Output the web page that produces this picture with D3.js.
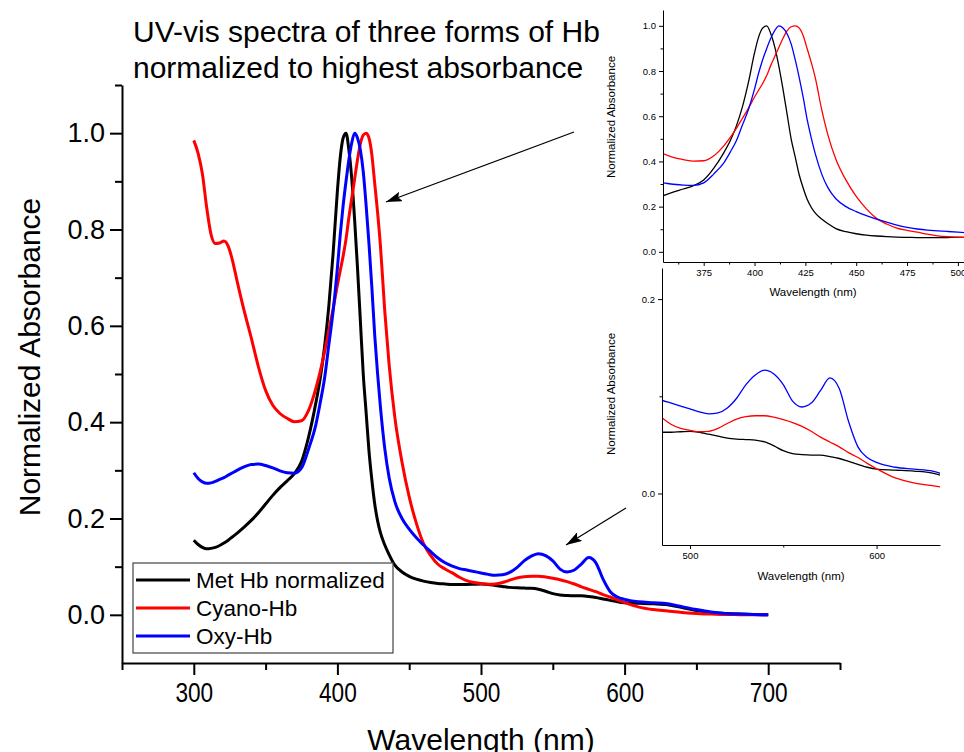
<!DOCTYPE html>
<html>
<head>
<meta charset="utf-8">
<script src="https://cdn.jsdelivr.net/npm/d3@7"></script>
<style>
  body { margin: 0; background: #fff; }
  text { font-family: "Liberation Sans", Arial, Helvetica, sans-serif; fill: #000; }
</style>
</head>
<body>
<svg id="chart" width="964" height="752"></svg>
<script>
// Wavelength grid (nm) shared by the three spectra
const wavelengths = [
  300,303,306,309,312,315,318,321,324,327,
  330,335,340,345,350,355,360,365,370,375,380,385,
  388,391,394,397,
  400,402,404,406,408,410,412,414,416,418,420,422,424,426,428,430,
  433,436,
  440,445,450,455,460,465,470,475,480,485,490,495,500,505,510,515,520,525,530,535,
  540,545,550,555,560,565,570,575,580,585,590,595,600,
  610,620,630,640,650,660,670,680,690,700
];

// Normalized absorbance, Met Hb
const metHb = [
  0.155,0.146,0.140,0.137,0.138,0.140,0.144,0.149,0.155,0.162,
  0.169,0.182,0.196,0.212,0.230,0.248,0.264,0.278,0.293,0.318,0.370,0.440,
  0.490,0.555,0.640,0.750,
  0.880,0.950,0.990,1.000,0.965,0.905,0.820,0.720,0.610,0.500,0.420,0.340,0.280,0.230,0.195,0.170,
  0.145,0.125,
  0.103,0.089,0.080,0.074,0.070,0.067,0.065,0.064,0.063,0.063,0.063,0.0635,0.064,0.063,0.061,0.059,0.057,0.056,0.0555,0.055,
  0.053,0.049,0.044,0.041,0.040,0.0395,0.0395,0.038,0.036,0.033,0.030,0.027,0.025,
  0.024,0.023,0.021,0.015,0.009,0.005,0.003,0.0015,0.0005,0.0
];

// Normalized absorbance, Cyano-Hb
const cyanoHb = [
  0.985,0.958,0.915,0.845,0.790,0.771,0.772,0.776,0.765,0.735,
  0.695,0.632,0.575,0.515,0.466,0.435,0.418,0.408,0.401,0.403,0.425,0.470,
  0.505,0.545,0.590,0.635,
  0.685,0.715,0.745,0.780,0.825,0.865,0.905,0.945,0.978,0.996,1.000,0.990,0.955,0.895,0.835,0.765,
  0.630,0.520,
  0.410,0.317,0.245,0.190,0.148,0.123,0.105,0.095,0.087,0.078,0.071,0.067,0.065,0.0635,0.064,0.067,0.072,0.0765,0.079,0.080,
  0.080,0.0785,0.076,0.073,0.069,0.064,0.058,0.053,0.048,0.042,0.037,0.031,0.0255,
  0.016,0.011,0.008,0.005,0.003,0.0015,0.0008,0.0003,0.0,0.0
];

// Normalized absorbance, Oxy-Hb
const oxyHb = [
  0.295,0.283,0.276,0.273,0.274,0.277,0.281,0.285,0.290,0.295,
  0.300,0.307,0.312,0.313,0.310,0.305,0.299,0.295,0.294,0.305,0.345,0.395,
  0.440,0.490,0.560,0.630,
  0.720,0.790,0.850,0.900,0.945,0.980,1.000,0.990,0.965,0.920,0.850,0.770,0.680,0.580,0.500,0.430,
  0.345,0.285,
  0.235,0.200,0.178,0.160,0.145,0.131,0.118,0.108,0.101,0.096,0.093,0.090,0.087,0.084,0.082,0.083,0.088,0.098,0.112,0.122,
  0.127,0.123,0.112,0.095,0.089,0.093,0.106,0.119,0.108,0.074,0.048,0.037,0.032,
  0.027,0.025,0.023,0.017,0.011,0.006,0.003,0.0015,0.0005,0.0
];

const seriesNames  = ["Met Hb normalized", "Cyano-Hb", "Oxy-Hb"];
const seriesColors = ["#000000", "#ff0000", "#0000ff"];
const seriesValues = [metHb, cyanoHb, oxyHb];

const titleLines = ["UV-vis spectra of three forms of Hb", "normalized to highest absorbance"];
const xTitle = "Wavelength (nm)";
const yTitle = "Normalized Absorbance";

// Tick values for the main plot and the two zoomed panels
const mainXTicks = [300, 400, 500, 600, 700];
const mainXMinor = [250, 350, 450, 550, 650, 750];
const mainYTicks = [0.0, 0.2, 0.4, 0.6, 0.8, 1.0];
const mainYMinor = [0.1, 0.3, 0.5, 0.7, 0.9, 1.1];

const soretXTicks = [375, 400, 425, 450, 475, 500];
const soretXMinor = [362.5, 387.5, 412.5, 437.5, 462.5, 487.5];
const soretYTicks = [0.0, 0.2, 0.4, 0.6, 0.8, 1.0];
const soretYMinor = [0.1, 0.3, 0.5, 0.7, 0.9];

const qbandXTicks = [500, 600];
const qbandXMinor = [550];
const qbandYTicks = [0.0, 0.2];
const qbandYMinor = [0.1];

const svg = d3.select("#chart");
const rows = wavelengths.map((w, i) => ({ w, v: seriesValues.map(s => s[i]) }));

let clipId = 0;
function drawPanel(opt) {
  const x = d3.scaleLinear().domain(opt.xDomain).range(opt.xRange);
  const y = d3.scaleLinear().domain(opt.yDomain).range(opt.yRange);
  const g = svg.append("g");
  const id = "clip" + (clipId++);
  g.append("clipPath").attr("id", id).append("rect")
    .attr("x", opt.xRange[0]).attr("y", opt.yRange[1])
    .attr("width", opt.xRange[1] - opt.xRange[0])
    .attr("height", opt.yRange[0] - opt.yRange[1]);

  const plot = g.append("g").attr("clip-path", `url(#${id})`);
  seriesValues.forEach((_, k) => {
    const line = d3.line()
      .x(d => x(d.w)).y(d => y(d.v[k]))
      .curve(d3.curveMonotoneX);
    plot.append("path").datum(rows)
      .attr("fill", "none")
      .attr("stroke", seriesColors[k])
      .attr("stroke-width", opt.lineWidth)
      .attr("stroke-linejoin", "round")
      .attr("d", line);
  });

  const fmtY = d3.format(".1f");
  const fmtX = d3.format("d");

  // bottom axis
  const xa = g.append("g").attr("transform", `translate(0,${opt.yRange[0]})`)
    .call(d3.axisBottom(x).tickValues(opt.xTicks).tickFormat(fmtX)
      .tickSize(opt.major).tickSizeOuter(0).tickPadding(opt.xPad));
  g.append("g").attr("transform", `translate(0,${opt.yRange[0]})`)
    .call(d3.axisBottom(x).tickValues(opt.xMinor).tickFormat("")
      .tickSize(opt.minor).tickSizeOuter(0))
    .call(s => s.select(".domain").remove());

  // left axis
  const ya = g.append("g").attr("transform", `translate(${opt.xRange[0]},0)`)
    .call(d3.axisLeft(y).tickValues(opt.yTicks).tickFormat(fmtY)
      .tickSize(opt.major).tickSizeOuter(0).tickPadding(opt.yPad));
  g.append("g").attr("transform", `translate(${opt.xRange[0]},0)`)
    .call(d3.axisLeft(y).tickValues(opt.yMinor).tickFormat("")
      .tickSize(opt.minor).tickSizeOuter(0))
    .call(s => s.select(".domain").remove());

  g.selectAll(".domain, .tick line")
    .attr("stroke", "#000").attr("stroke-width", opt.axisWidth);
  g.selectAll(".tick text").attr("fill", "#000").attr("font-family", null);
  xa.selectAll(".tick text").attr("font-size", opt.xTickFont);
  ya.selectAll(".tick text").attr("font-size", opt.yTickFont);
  if (opt.xTickStretch) {
    // condensed tick numerals along the wavelength axis
    xa.selectAll(".tick text").attr("transform", `scale(${opt.xTickStretch},1)`);
  }

  g.append("text")
    .attr("x", opt.xTitlePos[0]).attr("y", opt.xTitlePos[1])
    .attr("text-anchor", "middle").attr("font-size", opt.titleFont)
    .text(xTitle);
  g.append("text")
    .attr("transform", `translate(${opt.yTitlePos[0]},${opt.yTitlePos[1]}) rotate(-90)`)
    .attr("text-anchor", "middle").attr("font-size", opt.yTitleFont || opt.titleFont)
    .text(yTitle);
  return { x, y };
}

// Main spectrum
const main = drawPanel({
  xDomain: [250, 750], xRange: [122, 840],
  yDomain: [-0.1, 1.1], yRange: [663, 85],
  xTicks: mainXTicks, xMinor: mainXMinor, yTicks: mainYTicks, yMinor: mainYMinor,
  major: 12, minor: 7, axisWidth: 2, lineWidth: 3,
  xPad: 8, yPad: 5, xTickFont: 27, yTickFont: 27, xTickStretch: 0.84,
  titleFont: 30, xTitlePos: [481, 750], yTitlePos: [40, 357]
});

// Soret band zoom (upper right)
drawPanel({
  xDomain: [355, 503], xRange: [663, 964],
  yDomain: [-0.045, 1.07], yRange: [262, 10],
  xTicks: soretXTicks, xMinor: soretXMinor, yTicks: soretYTicks, yMinor: soretYMinor,
  major: 4, minor: 2.5, axisWidth: 1, lineWidth: 1.3,
  xPad: 3, yPad: 3, xTickFont: 9.5, yTickFont: 9.5,
  titleFont: 11.5, xTitlePos: [813, 296], yTitlePos: [615, 117]
});

// Q band zoom (lower right)
drawPanel({
  xDomain: [485, 634], xRange: [662, 940],
  yDomain: [-0.053, 0.232], yRange: [545, 268],
  xTicks: qbandXTicks, xMinor: qbandXMinor, yTicks: qbandYTicks, yMinor: qbandYMinor,
  major: 4, minor: 2.5, axisWidth: 1, lineWidth: 1.3,
  xPad: 3, yPad: 3, xTickFont: 9.5, yTickFont: 9.5,
  titleFont: 11.5, xTitlePos: [801, 580], yTitlePos: [615, 394]
});

// Title
svg.append("text")
  .attr("x", 133).attr("y", 42).attr("font-size", 30)
  .selectAll("tspan").data(titleLines).join("tspan")
  .attr("x", 133).attr("dy", (d, i) => i === 0 ? 0 : 36)
  .text(d => d);

// Legend
const legend = svg.append("g");
legend.append("rect")
  .attr("x", 133).attr("y", 563).attr("width", 260).attr("height", 90)
  .attr("fill", "#fff").attr("stroke", "#444").attr("stroke-width", 1.2);
seriesNames.forEach((name, k) => {
  const cy = 580 + k * 28;
  legend.append("line")
    .attr("x1", 136).attr("x2", 190).attr("y1", cy).attr("y2", cy)
    .attr("stroke", seriesColors[k]).attr("stroke-width", 3);
  legend.append("text")
    .attr("x", 196).attr("y", cy).attr("dy", "0.35em")
    .attr("font-size", 22.5).text(name);
});

// Arrows pointing from the zoom panels to the corresponding bands
svg.append("defs").append("marker")
  .attr("id", "head").attr("markerUnits", "userSpaceOnUse")
  .attr("markerWidth", 16).attr("markerHeight", 10)
  .attr("refX", 16).attr("refY", 5).attr("orient", "auto")
  .append("path").attr("d", "M0,0 L16,5 L0,10 L3,5 Z").attr("fill", "#000");

const arrows = [
  { from: [574, 132], to: [433.8, 0.857] },
  { from: [626, 508], to: [559.2, 0.145] }
];
arrows.forEach(a => {
  svg.append("line")
    .attr("x1", a.from[0]).attr("y1", a.from[1])
    .attr("x2", main.x(a.to[0])).attr("y2", main.y(a.to[1]))
    .attr("stroke", "#000").attr("stroke-width", 1.2)
    .attr("marker-end", "url(#head)");
});
</script>
</body>
</html>
